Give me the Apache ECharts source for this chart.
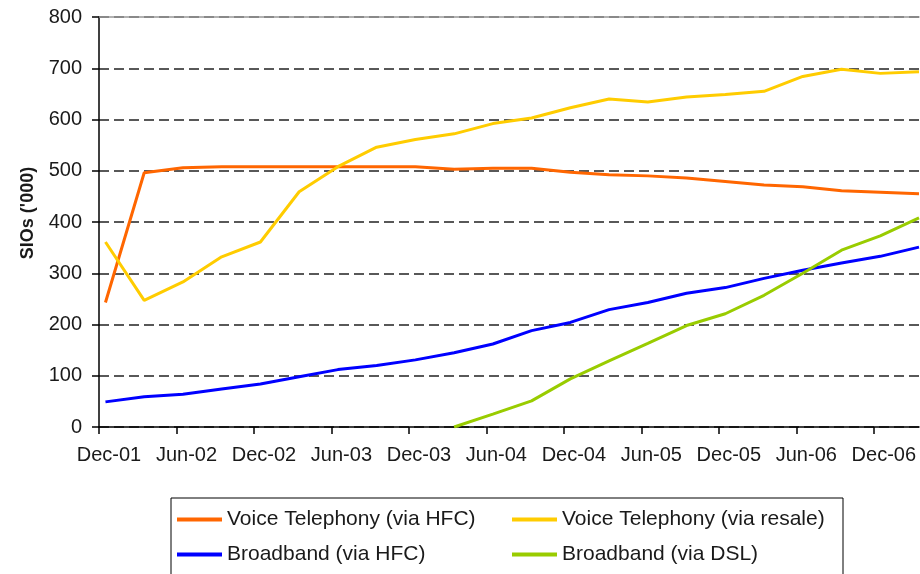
<!DOCTYPE html>
<html>
<head>
<meta charset="utf-8">
<script src="https://cdn.jsdelivr.net/npm/echarts@6/dist/echarts.min.js"></script>
<style>
  html, body { margin: 0; padding: 0; background: #fff; }
  #chart { width: 920px; height: 574px; }
</style>
</head>
<body>
<div id="chart"></div>
<script>
// quarterly observations, Dec-01 .. Mar-07
const quarters = ['Dec-01', 'Mar-02', 'Jun-02', 'Sep-02', 'Dec-02', 'Mar-03', 'Jun-03', 'Sep-03',
  'Dec-03', 'Mar-04', 'Jun-04', 'Sep-04', 'Dec-04', 'Mar-05', 'Jun-05', 'Sep-05',
  'Dec-05', 'Mar-06', 'Jun-06', 'Sep-06', 'Dec-06', 'Mar-07']
const tickLabels = ['Dec-01', 'Jun-02', 'Dec-02', 'Jun-03', 'Dec-03', 'Jun-04',
  'Dec-04', 'Jun-05', 'Dec-05', 'Jun-06', 'Dec-06']

const voiceHfc = [243, 496, 506, 508, 508, 508, 508, 508, 508, 503, 505, 505,
  497, 492, 490, 486, 479, 472, 469, 461, 458, 455]
const voiceResale = [361, 247, 283, 332, 361, 459, 508, 546, 561, 572, 592, 603,
  623, 640, 634, 644, 649, 655, 684, 698, 690, 693]
const broadbandHfc = [49, 59, 64, 74, 84, 98, 112, 120, 131, 145, 162, 188,
  204, 229, 243, 261, 272, 290, 306, 320, 333, 351]
const broadbandDsl = [null, null, null, null, null, null, null, null, null, 0, 25, 51,
  94, 129, 163, 198, 221, 257, 300, 345, 373, 408]

const seriesNames = ['Voice Telephony (via HFC)', 'Voice Telephony (via resale)',
  'Broadband (via HFC)', 'Broadband (via DSL)']
const seriesColors = ['#ff6600', '#ffcc00', '#0000ff', '#99cc00']

// months since Dec-01; each quarter sits in the middle of its month slot
const toPoints = (vals) => quarters.map((q, i) => [3 * i + 0.5, vals[i]])
const tickMonths = tickLabels.map((t, i) => i * 6)

const font = 'Arial, "Liberation Sans", sans-serif'
const textColor = '#1a1a1a'

const chart = echarts.init(document.getElementById('chart'), null, { renderer: 'canvas' })

const option = {
  backgroundColor: '#fff',
  animation: false,
  color: seriesColors,
  textStyle: { fontFamily: font, color: textColor },
  grid: { left: 99, right: 1, top: 17, bottom: 147 },
  legend: {
    left: 171,
    top: 498,
    width: 665,
    padding: [9, 6, 8, 6],
    itemGap: 10,
    itemWidth: 45,
    itemHeight: 4,
    icon: 'rect',
    borderColor: '#000',
    borderWidth: 1,
    textStyle: { fontSize: 21, color: textColor, fontFamily: font, width: 275, lineHeight: 25 },
    data: seriesNames
  },
  xAxis: [
    {
      type: 'value',
      min: 0,
      max: 63.5,
      interval: 6,
      axisLine: { lineStyle: { color: '#000', width: 1.5 } },
      axisTick: { show: true, length: 7, inside: false, customValues: tickMonths, lineStyle: { color: '#000', width: 1.5 } },
      axisLabel: {
        customValues: tickMonths,
        fontSize: 20,
        color: textColor,
        margin: 18,
        padding: [0, 0, 0, 20],
        formatter: (v) => tickLabels[Math.round(v / 6)] || ''
      },
      splitLine: { show: false }
    },
    {
      type: 'value',
      position: 'top',
      min: 0,
      max: 63.5,
      axisLine: { show: true, lineStyle: { color: '#999', width: 1.5 } },
      axisTick: { show: false },
      axisLabel: { show: false },
      splitLine: { show: false }
    }
  ],
  yAxis: {
    type: 'value',
    min: 0,
    max: 800,
    interval: 100,
    name: "SIOs ('000)",
    nameLocation: 'middle',
    nameGap: 62,
    nameTextStyle: { fontSize: 18, fontWeight: 'bold', color: textColor, fontFamily: font, padding: [0, 0, 0, 18] },
    axisLine: { show: true, lineStyle: { color: '#000', width: 1.5 } },
    axisTick: { show: true, length: 7, lineStyle: { color: '#000', width: 1.5 } },
    axisLabel: { fontSize: 20, color: textColor, margin: 17 },
    splitLine: {
      show: true,
      lineStyle: { color: '#222', width: 1.5, type: [10, 5] }
    }
  },
  series: [voiceHfc, voiceResale, broadbandHfc, broadbandDsl].map((vals, k) => ({
    name: seriesNames[k],
    type: 'line',
    data: toPoints(vals),
    showSymbol: false,
    symbol: 'none',
    lineStyle: { width: 3, color: seriesColors[k] },
    itemStyle: { color: seriesColors[k] }
  }))
}

chart.setOption(option)
</script>
</body>
</html>
